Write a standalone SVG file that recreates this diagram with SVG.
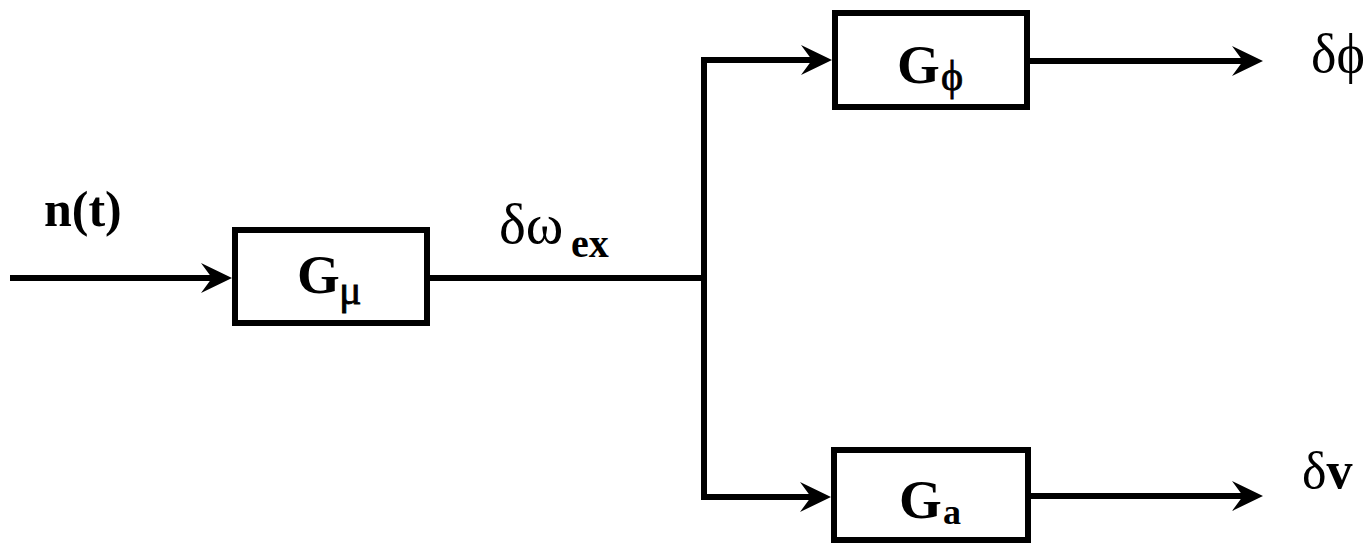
<svg xmlns="http://www.w3.org/2000/svg" width="1367" height="543" viewBox="0 0 1367 543">
  <style>
    .box { fill: #fff; stroke: #000; stroke-width: 6; }
    .wire { fill: none; stroke: #000; stroke-width: 6; stroke-linejoin: miter; stroke-linecap: butt; }
    .lat { font-family: "Liberation Serif", "Times New Roman", serif; font-weight: bold; fill: #000; }
    .grk { font-family: "Liberation Serif", "Times New Roman", serif; font-weight: normal; fill: #000; }
  </style>
  <defs>
    <marker id="arrow" markerUnits="userSpaceOnUse" viewBox="-40 -20 45 40" refX="-12" refY="0" markerWidth="45" markerHeight="40" orient="auto" overflow="visible">
      <path d="M0,0 L-31,-15 L-20,0 L-31,15 Z" fill="#000"/>
    </marker>
  </defs>
  <rect width="1367" height="543" fill="#fff"/>

  <g id="connectors">
    <path class="wire" d="M10,278 H220" marker-end="url(#arrow)"/>
    <path class="wire" d="M427,278 H704"/>
    <path class="wire" d="M704,278 V60 H820" marker-end="url(#arrow)"/>
    <path class="wire" d="M704,278 V497 H819" marker-end="url(#arrow)"/>
    <path class="wire" d="M1027,61 H1251" marker-end="url(#arrow)"/>
    <path class="wire" d="M1028,496 H1251" marker-end="url(#arrow)"/>
  </g>

  <g id="input-label">
    <text class="lat" x="44" y="226" font-size="50">n(t)</text>
  </g>

  <g id="node-g-mu">
    <rect class="box" x="235" y="230" width="192" height="93"/>
    <text class="lat" x="297" y="293" font-size="55">G</text>
    <text class="grk" x="339" y="304" font-size="42" stroke="#000" stroke-width="0.8">μ</text>
  </g>

  <g id="signal-omega">
    <text class="grk" x="499" y="243" font-size="57">δω</text>
    <text class="lat" x="571" y="257" font-size="40">ex</text>
  </g>

  <g id="node-g-phi">
    <rect class="box" x="835" y="13" width="192" height="94"/>
    <text class="lat" x="897" y="83" font-size="55">G</text>
    <text class="grk" x="941" y="90" font-size="42" stroke="#000" stroke-width="0.8">ϕ</text>
  </g>

  <g id="node-g-a">
    <rect class="box" x="834" y="450" width="194" height="90"/>
    <text class="lat" x="899" y="518" font-size="55">G</text>
    <text class="lat" x="943" y="524" font-size="36">a</text>
  </g>

  <g id="output-phi">
    <text class="grk" x="1311" y="72" font-size="54">δϕ</text>
  </g>

  <g id="output-v">
    <text class="grk" x="1302" y="488" font-size="52">δ<tspan class="lat">v</tspan></text>
  </g>
</svg>
